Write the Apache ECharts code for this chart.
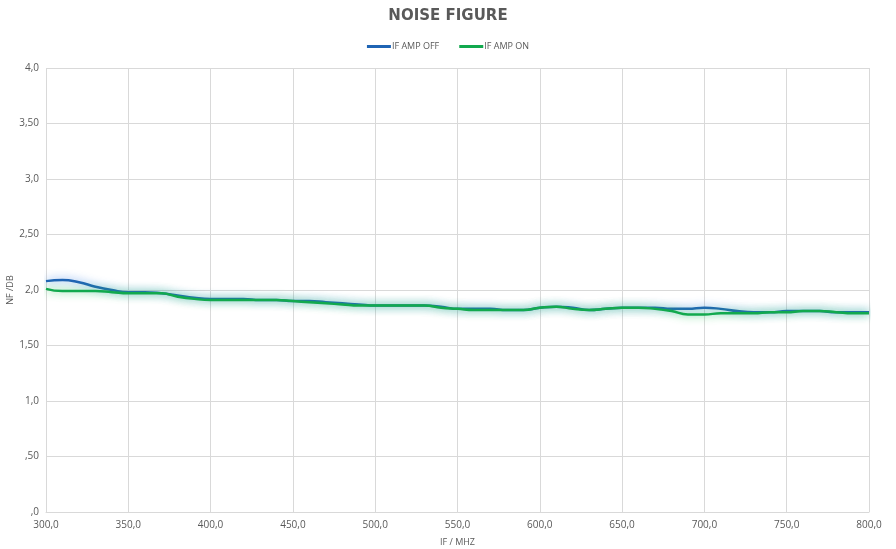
<!DOCTYPE html>
<html>
<head>
    <meta charset="utf-8">
    <script src="https://cdn.jsdelivr.net/npm/echarts@6/dist/echarts.min.js"></script>
</head>
<body style="margin: 0; background: #fff">
<div id="container" style="width: 896px; height: 549px"></div>
<script type="text/javascript">
    // frequency in MHz, 10 MHz steps
    var freq = [300, 310, 320, 330, 340, 350, 360, 370, 380, 390,
        400, 410, 420, 430, 440, 450, 460, 470, 480, 490,
        500, 510, 520, 530, 540, 550, 560, 570, 580, 590,
        600, 610, 620, 630, 640, 650, 660, 670, 680, 690,
        700, 710, 720, 730, 740, 750, 760, 770, 780, 790, 800];
    var ampOff = [2.08, 2.09, 2.07, 2.03, 2.00, 1.98, 1.98, 1.97, 1.95, 1.93,
        1.92, 1.92, 1.92, 1.91, 1.91, 1.90, 1.90, 1.89, 1.88, 1.87,
        1.86, 1.86, 1.86, 1.86, 1.85, 1.83, 1.83, 1.83, 1.82, 1.82,
        1.84, 1.85, 1.84, 1.82, 1.83, 1.84, 1.84, 1.84, 1.83, 1.83,
        1.84, 1.83, 1.81, 1.80, 1.80, 1.81, 1.81, 1.81, 1.80, 1.80, 1.80];
    var ampOn = [2.01, 1.99, 1.99, 1.99, 1.98, 1.97, 1.97, 1.97, 1.94, 1.92,
        1.91, 1.91, 1.91, 1.91, 1.91, 1.90, 1.89, 1.88, 1.87, 1.86,
        1.86, 1.86, 1.86, 1.86, 1.84, 1.83, 1.82, 1.82, 1.82, 1.82,
        1.84, 1.85, 1.83, 1.82, 1.83, 1.84, 1.84, 1.83, 1.81, 1.78,
        1.78, 1.79, 1.79, 1.79, 1.80, 1.80, 1.81, 1.81, 1.80, 1.79, 1.79];
    // y tick labels, from 0 up in 0.5 steps
    var yLabels = [',0', ',50', '1,0', '1,50', '2,0', '2,50', '3,0', '3,50', '4,0'];

    function pairs(ys) {
        return freq.map(function (f, i) { return [f, ys[i]]; });
    }

    var myChart = echarts.init(document.getElementById("container"));
    var font = '"Open Sans", sans-serif';

    var option = {
        animation: false,
        title: {
            text: 'NOISE FIGURE',
            left: 'center',
            top: 4,
            textStyle: {
                fontFamily: '"DejaVu Sans", sans-serif',
                fontSize: 15,
                fontWeight: 'bold',
                color: '#595959'
            }
        },
        legend: {
            top: 37,
            left: 'center',
            itemWidth: 24,
            itemHeight: 3,
            itemGap: 20,
            icon: 'rect',
            textStyle: {fontFamily: font, fontSize: 9, color: '#595959', padding: [0, 0, 0, -4]},
            data: ['IF AMP OFF', 'IF AMP ON']
        },
        grid: {left: 46, right: 27, top: 68, bottom: 37, outerBoundsMode: 'none'},
        xAxis: {
            type: 'value',
            min: 300,
            max: 800,
            interval: 50,
            name: 'IF / MHZ',
            nameLocation: 'middle',
            nameGap: 26,
            nameMoveOverlap: false,
            nameTextStyle: {fontFamily: font, fontSize: 9, color: '#595959'},
            axisLine: {show: true, lineStyle: {color: '#d9d9d9'}},
            axisTick: {show: false},
            axisLabel: {
                fontFamily: font, fontSize: 10, color: '#595959', margin: 8,
                formatter: function (v) { return v + ',0'; }
            },
            splitLine: {show: true, lineStyle: {color: '#d9d9d9'}}
        },
        yAxis: {
            type: 'value',
            min: 0,
            max: 4,
            interval: 0.5,
            name: 'NF /DB',
            nameLocation: 'middle',
            nameGap: 31,
            nameMoveOverlap: false,
            nameTextStyle: {fontFamily: font, fontSize: 9, color: '#595959'},
            axisLine: {show: false},
            axisTick: {show: false},
            axisLabel: {
                fontFamily: font, fontSize: 10, color: '#595959', margin: 7,
                formatter: function (v) { return yLabels[Math.round(v / 0.5)]; }
            },
            splitLine: {show: true, lineStyle: {color: '#d9d9d9'}}
        },
        series: [
            {
                name: 'IF AMP OFF',
                type: 'line',
                smooth: true,
                showSymbol: false,
                color: '#1f64b4',
                lineStyle: {
                    width: 2.5,
                    shadowBlur: 8,
                    shadowColor: 'rgba(60,130,230,0.8)'
                },
                data: pairs(ampOff)
            },
            {
                name: 'IF AMP ON',
                type: 'line',
                smooth: true,
                showSymbol: false,
                color: '#12a94e',
                lineStyle: {
                    width: 2.5,
                    shadowBlur: 8,
                    shadowColor: 'rgba(40,200,90,0.8)'
                },
                data: pairs(ampOn)
            }
        ]
    };

    myChart.setOption(option);
</script>
</body>
</html>
